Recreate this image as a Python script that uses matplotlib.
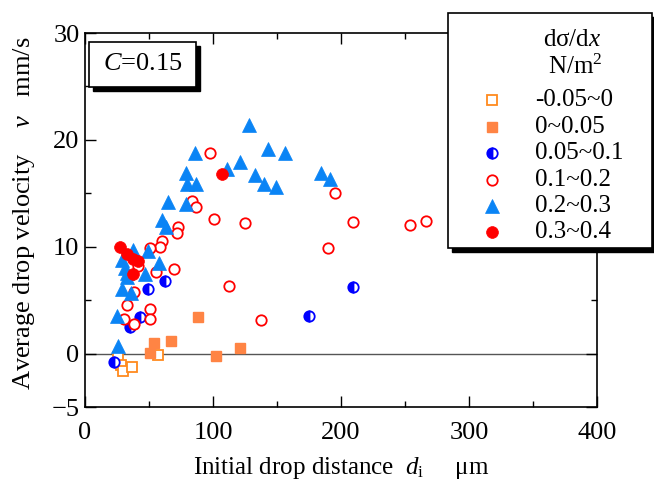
import matplotlib
matplotlib.use("Agg")
import matplotlib.pyplot as plt
from matplotlib.patches import Rectangle
from matplotlib.lines import Line2D
from matplotlib.ticker import MultipleLocator, FixedLocator

plt.rcParams.update({
    "font.family": "Liberation Serif",
    "mathtext.fontset": "custom",
    "mathtext.rm": "Liberation Serif",
    "mathtext.it": "Liberation Serif:italic",
    "font.size": 18,
})

# -0.05~0 (open squares)
open_sq_x = [26, 28, 30, 37, 57]
open_sq_y = [-0.3, -1.1, -1.6, -1.3, -0.1]
# 0~0.05 (filled squares)
fill_sq_x = [51, 54, 67, 88, 102, 121]
fill_sq_y = [0.1, 1.0, 1.2, 3.4, -0.2, 0.5]
# 0.05~0.1 (half filled circles)
half_x = [23, 35, 43, 49.5, 62.5, 175, 209.6]
half_y = [-0.8, 2.5, 3.4, 6.0, 6.8, 3.5, 6.2]
# 0.1~0.2 (open circles)
open_c_x = [97.7, 101, 125, 195.3, 209.4, 254, 266.6, 190, 112.5, 137.3,
            83.3, 86.7, 72.9, 71.6, 59.9, 58.6, 50.8, 69.5, 55.2, 38.5,
            32.5, 50.8, 50.8, 30.7, 38.5, 41.6]
open_c_y = [18.8, 12.6, 12.2, 15.0, 12.3, 12.0, 12.4, 9.9, 6.3, 3.1,
            14.3, 13.7, 11.8, 11.3, 10.5, 10.0, 9.9, 7.9, 7.6, 5.8,
            4.5, 4.2, 3.2, 3.2, 2.8, 8.2]
# 0.2~0.3 (triangles)
tri_x = [128.4, 143.2, 156.3, 121, 132.8, 140, 149.2, 184.1, 191.4, 111,
         85.9, 78.9, 79.9, 86.7, 65.1, 78.9, 59.9, 63.3, 49.5, 58.1,
         46.9, 32.5, 29, 36, 24.7, 26, 28.6, 37.8, 31.3, 32.6]
tri_y = [21.4, 19.1, 18.8, 17.9, 16.7, 15.9, 15.6, 16.9, 16.3, 17.3,
         18.8, 16.9, 15.9, 15.9, 14.2, 14.0, 12.5, 11.8, 9.6, 8.5,
         7.4, 7.5, 6.0, 5.7, 3.5, 0.7, 8.8, 9.7, 8.0, 7.2]
# 0.3~0.4 (filled circles)
fill_c_x = [27.3, 32.5, 37.8, 41.6, 37.8, 106.8]
fill_c_y = [10.0, 9.35, 8.85, 8.7, 7.4, 16.8]

groups = [
    ("-0.05~0", open_sq_x, open_sq_y,
     dict(marker="s", ms=7, mfc="white", mec="#FF8A1E", mew=1.3)),
    ("0~0.05", fill_sq_x, fill_sq_y,
     dict(marker="s", ms=7.5, mfc="#FF8444", mec="#FF8444", mew=1.0)),
    ("0.05~0.1", half_x, half_y,
     dict(marker="o", ms=7.5, mfc="#0000FF", mfcalt="white", mec="#0000FF",
          mew=1.3, fillstyle="left")),
    ("0.1~0.2", open_c_x, open_c_y,
     dict(marker="o", ms=7.5, mfc="white", mec="#FF0000", mew=1.3)),
    ("0.2~0.3", tri_x, tri_y,
     dict(marker="^", ms=10, mfc="#0A84F5", mec="#0A84F5", mew=0.5)),
    ("0.3~0.4", fill_c_x, fill_c_y,
     dict(marker="o", ms=8.5, mfc="#FF0000", mec="#FF0000", mew=0.5)),
]

fig = plt.figure(figsize=(6.54, 4.82), dpi=100)
ax = fig.add_axes([85 / 654, 1 - 407 / 482, 512 / 654, 374 / 482])

ax.axhline(0, color="#555555", lw=1.0, zorder=1)
for label, xs, ys, st in groups:
    ax.plot(xs, ys, linestyle="none", zorder=3, **st)

ax.set_xlim(0, 400)
ax.set_ylim(-5, 30)
ax.xaxis.set_major_locator(MultipleLocator(100))
ax.xaxis.set_minor_locator(MultipleLocator(50))
ax.yaxis.set_major_locator(FixedLocator([-5, 0, 10, 20, 30]))
ax.yaxis.set_minor_locator(FixedLocator([5, 15, 25]))
ax.tick_params(which="both", direction="in", top=True, right=True, labelsize=19)
ax.tick_params(which="major", length=8, width=1.0, pad=4)
ax.tick_params(which="minor", length=4, width=1.0)
ax.tick_params(axis="x", which="major", pad=11)
for sp in ax.spines.values():
    sp.set_linewidth(1.2)

ax.set_xlabel("Initial drop distance  $d_\\mathrm{i}$     μm", fontsize=18, labelpad=8)
ax.set_ylabel("Average drop velocity    $v$   mm/s", fontsize=19)
ax.yaxis.set_label_coords(-0.094, 0.519)

# C=0.15 box with shadow
ax.add_patch(Rectangle((0.0156, 0.845), 0.209, 0.12, transform=ax.transAxes,
                       facecolor="black", edgecolor="black", zorder=4, clip_on=False))
ax.add_patch(Rectangle((0.0078, 0.856), 0.209, 0.12, transform=ax.transAxes,
                       facecolor="white", edgecolor="black", lw=1.2, zorder=5, clip_on=False))
ax.text(0.112, 0.916, "$C$=0.15", transform=ax.transAxes, ha="center", va="center",
        fontsize=19, zorder=6)

# legend box drawn in figure pixels
W, H = 654, 482
def fx(px):
    return px / W
def fy(py):
    return 1 - py / H

fig.add_artist(Rectangle((fx(452), fy(252)), fx(204), 235 / H, transform=fig.transFigure,
                         facecolor="black", edgecolor="black", zorder=8))
fig.add_artist(Rectangle((fx(448), fy(248)), fx(204), 235 / H, transform=fig.transFigure,
                         facecolor="white", edgecolor="black", lw=1.2, zorder=9))
fig.text(fx(572), fy(40), "dσ/d$x$", ha="center", va="center", fontsize=18, zorder=10)
fig.text(fx(575), fy(67), "N/m$^2$", ha="center", va="center", fontsize=18, zorder=10)
row_y = [100, 127, 153, 180, 206, 232]
for (label, xs, ys, st), ry in zip(groups, row_y):
    fig.add_artist(Line2D([fx(492)], [fy(ry)], transform=fig.transFigure,
                          linestyle="none", zorder=10, **st))
    fig.text(fx(535), fy(ry), label, ha="left", va="center", fontsize=18, zorder=10)

fig.savefig("out.png", dpi=100)
